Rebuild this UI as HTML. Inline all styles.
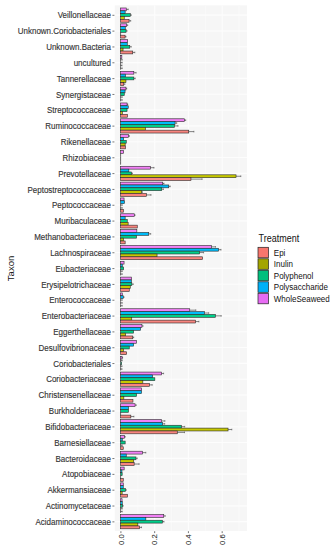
<!DOCTYPE html>
<html><head><meta charset="utf-8"><style>html,body{margin:0;padding:0;background:#fff;width:335px;height:550px;overflow:hidden}svg{display:block;font-family:"Liberation Sans",sans-serif}</style></head>
<body><svg width="335" height="550" viewBox="0 0 335 550" font-family="Liberation Sans, sans-serif"><rect x="0" y="0" width="335" height="550" fill="#fff"/><rect x="114.8" y="5.4" width="132.2" height="525.5" fill="#F6F6F6"/><line x1="137.78" y1="5.4" x2="137.78" y2="530.9" stroke="#FAFAFA" stroke-width="0.8"/><line x1="171.54" y1="5.4" x2="171.54" y2="530.9" stroke="#FAFAFA" stroke-width="0.8"/><line x1="205.30" y1="5.4" x2="205.30" y2="530.9" stroke="#FAFAFA" stroke-width="0.8"/><line x1="239.06" y1="5.4" x2="239.06" y2="530.9" stroke="#FAFAFA" stroke-width="0.8"/><line x1="120.90" y1="5.4" x2="120.90" y2="530.9" stroke="#FDFDFD" stroke-width="1.1"/><line x1="154.66" y1="5.4" x2="154.66" y2="530.9" stroke="#FDFDFD" stroke-width="1.1"/><line x1="188.42" y1="5.4" x2="188.42" y2="530.9" stroke="#FDFDFD" stroke-width="1.1"/><line x1="222.18" y1="5.4" x2="222.18" y2="530.9" stroke="#FDFDFD" stroke-width="1.1"/><line x1="114.8" y1="15.10" x2="247.0" y2="15.10" stroke="#FDFDFD" stroke-width="1.1"/><line x1="114.8" y1="30.93" x2="247.0" y2="30.93" stroke="#FDFDFD" stroke-width="1.1"/><line x1="114.8" y1="46.76" x2="247.0" y2="46.76" stroke="#FDFDFD" stroke-width="1.1"/><line x1="114.8" y1="62.59" x2="247.0" y2="62.59" stroke="#FDFDFD" stroke-width="1.1"/><line x1="114.8" y1="78.42" x2="247.0" y2="78.42" stroke="#FDFDFD" stroke-width="1.1"/><line x1="114.8" y1="94.25" x2="247.0" y2="94.25" stroke="#FDFDFD" stroke-width="1.1"/><line x1="114.8" y1="110.08" x2="247.0" y2="110.08" stroke="#FDFDFD" stroke-width="1.1"/><line x1="114.8" y1="125.91" x2="247.0" y2="125.91" stroke="#FDFDFD" stroke-width="1.1"/><line x1="114.8" y1="141.74" x2="247.0" y2="141.74" stroke="#FDFDFD" stroke-width="1.1"/><line x1="114.8" y1="157.57" x2="247.0" y2="157.57" stroke="#FDFDFD" stroke-width="1.1"/><line x1="114.8" y1="173.40" x2="247.0" y2="173.40" stroke="#FDFDFD" stroke-width="1.1"/><line x1="114.8" y1="189.23" x2="247.0" y2="189.23" stroke="#FDFDFD" stroke-width="1.1"/><line x1="114.8" y1="205.06" x2="247.0" y2="205.06" stroke="#FDFDFD" stroke-width="1.1"/><line x1="114.8" y1="220.89" x2="247.0" y2="220.89" stroke="#FDFDFD" stroke-width="1.1"/><line x1="114.8" y1="236.72" x2="247.0" y2="236.72" stroke="#FDFDFD" stroke-width="1.1"/><line x1="114.8" y1="252.55" x2="247.0" y2="252.55" stroke="#FDFDFD" stroke-width="1.1"/><line x1="114.8" y1="268.38" x2="247.0" y2="268.38" stroke="#FDFDFD" stroke-width="1.1"/><line x1="114.8" y1="284.21" x2="247.0" y2="284.21" stroke="#FDFDFD" stroke-width="1.1"/><line x1="114.8" y1="300.04" x2="247.0" y2="300.04" stroke="#FDFDFD" stroke-width="1.1"/><line x1="114.8" y1="315.87" x2="247.0" y2="315.87" stroke="#FDFDFD" stroke-width="1.1"/><line x1="114.8" y1="331.70" x2="247.0" y2="331.70" stroke="#FDFDFD" stroke-width="1.1"/><line x1="114.8" y1="347.53" x2="247.0" y2="347.53" stroke="#FDFDFD" stroke-width="1.1"/><line x1="114.8" y1="363.36" x2="247.0" y2="363.36" stroke="#FDFDFD" stroke-width="1.1"/><line x1="114.8" y1="379.19" x2="247.0" y2="379.19" stroke="#FDFDFD" stroke-width="1.1"/><line x1="114.8" y1="395.02" x2="247.0" y2="395.02" stroke="#FDFDFD" stroke-width="1.1"/><line x1="114.8" y1="410.85" x2="247.0" y2="410.85" stroke="#FDFDFD" stroke-width="1.1"/><line x1="114.8" y1="426.68" x2="247.0" y2="426.68" stroke="#FDFDFD" stroke-width="1.1"/><line x1="114.8" y1="442.51" x2="247.0" y2="442.51" stroke="#FDFDFD" stroke-width="1.1"/><line x1="114.8" y1="458.34" x2="247.0" y2="458.34" stroke="#FDFDFD" stroke-width="1.1"/><line x1="114.8" y1="474.17" x2="247.0" y2="474.17" stroke="#FDFDFD" stroke-width="1.1"/><line x1="114.8" y1="490.00" x2="247.0" y2="490.00" stroke="#FDFDFD" stroke-width="1.1"/><line x1="114.8" y1="505.83" x2="247.0" y2="505.83" stroke="#FDFDFD" stroke-width="1.1"/><line x1="114.8" y1="521.66" x2="247.0" y2="521.66" stroke="#FDFDFD" stroke-width="1.1"/><rect x="120.6" y="7.98" width="5.65" height="2.85" fill="#F280F6" stroke="#2a2a2a" stroke-width="0.6"/><line x1="126.25" y1="9.40" x2="128.20" y2="9.40" stroke="#333" stroke-width="0.6"/><line x1="128.20" y1="8.60" x2="128.20" y2="10.20" stroke="#444" stroke-width="0.6"/><rect x="120.6" y="10.83" width="4.55" height="2.85" fill="#00BCFA" stroke="#2a2a2a" stroke-width="0.6"/><rect x="120.6" y="13.68" width="9.65" height="2.85" fill="#00CF8A" stroke="#2a2a2a" stroke-width="0.6"/><line x1="130.25" y1="15.10" x2="131.20" y2="15.10" stroke="#333" stroke-width="0.6"/><line x1="131.20" y1="14.30" x2="131.20" y2="15.90" stroke="#444" stroke-width="0.6"/><rect x="120.6" y="16.52" width="3.65" height="2.85" fill="#C6C800" stroke="#2a2a2a" stroke-width="0.6"/><rect x="120.6" y="19.37" width="8.45" height="2.85" fill="#F8847E" stroke="#2a2a2a" stroke-width="0.6"/><line x1="129.05" y1="20.80" x2="130.70" y2="20.80" stroke="#333" stroke-width="0.6"/><line x1="130.70" y1="20.00" x2="130.70" y2="21.60" stroke="#444" stroke-width="0.6"/><rect x="120.6" y="23.81" width="6.15" height="2.85" fill="#F280F6" stroke="#2a2a2a" stroke-width="0.6"/><line x1="126.75" y1="25.23" x2="127.70" y2="25.23" stroke="#333" stroke-width="0.6"/><line x1="127.70" y1="24.43" x2="127.70" y2="26.03" stroke="#444" stroke-width="0.6"/><rect x="120.6" y="26.66" width="4.65" height="2.85" fill="#00BCFA" stroke="#2a2a2a" stroke-width="0.6"/><rect x="120.6" y="29.51" width="5.45" height="2.85" fill="#00CF8A" stroke="#2a2a2a" stroke-width="0.6"/><line x1="126.05" y1="30.93" x2="127.00" y2="30.93" stroke="#333" stroke-width="0.6"/><line x1="127.00" y1="30.13" x2="127.00" y2="31.73" stroke="#444" stroke-width="0.6"/><line x1="120.6" y1="32.35" x2="120.6" y2="35.20" stroke="#222" stroke-width="0.7"/><rect x="120.6" y="35.20" width="4.45" height="2.85" fill="#F8847E" stroke="#2a2a2a" stroke-width="0.6"/><line x1="125.05" y1="36.63" x2="126.00" y2="36.63" stroke="#333" stroke-width="0.6"/><line x1="126.00" y1="35.83" x2="126.00" y2="37.43" stroke="#444" stroke-width="0.6"/><rect x="120.6" y="39.64" width="7.05" height="2.85" fill="#F280F6" stroke="#2a2a2a" stroke-width="0.6"/><rect x="120.6" y="42.49" width="6.65" height="2.85" fill="#00BCFA" stroke="#2a2a2a" stroke-width="0.6"/><rect x="120.6" y="45.34" width="9.15" height="2.85" fill="#00CF8A" stroke="#2a2a2a" stroke-width="0.6"/><line x1="129.75" y1="46.76" x2="131.20" y2="46.76" stroke="#333" stroke-width="0.6"/><line x1="131.20" y1="45.96" x2="131.20" y2="47.56" stroke="#444" stroke-width="0.6"/><rect x="120.6" y="48.18" width="2.45" height="2.85" fill="#C6C800" stroke="#2a2a2a" stroke-width="0.6"/><rect x="120.6" y="51.03" width="12.15" height="2.85" fill="#F8847E" stroke="#2a2a2a" stroke-width="0.6"/><line x1="132.75" y1="52.46" x2="134.80" y2="52.46" stroke="#333" stroke-width="0.6"/><line x1="134.80" y1="51.66" x2="134.80" y2="53.26" stroke="#444" stroke-width="0.6"/><rect x="120.6" y="55.47" width="1.25" height="2.85" fill="#F280F6" stroke="#2a2a2a" stroke-width="0.6"/><line x1="120.6" y1="58.32" x2="120.6" y2="61.17" stroke="#222" stroke-width="0.7"/><line x1="120.60" y1="59.74" x2="122.20" y2="59.74" stroke="#333" stroke-width="0.6"/><line x1="122.20" y1="58.94" x2="122.20" y2="60.54" stroke="#444" stroke-width="0.6"/><line x1="120.6" y1="61.17" x2="120.6" y2="64.01" stroke="#222" stroke-width="0.7"/><line x1="120.60" y1="62.59" x2="122.20" y2="62.59" stroke="#333" stroke-width="0.6"/><line x1="122.20" y1="61.79" x2="122.20" y2="63.39" stroke="#444" stroke-width="0.6"/><line x1="120.6" y1="64.01" x2="120.6" y2="66.86" stroke="#222" stroke-width="0.7"/><line x1="120.60" y1="65.44" x2="122.00" y2="65.44" stroke="#333" stroke-width="0.6"/><line x1="122.00" y1="64.64" x2="122.00" y2="66.24" stroke="#444" stroke-width="0.6"/><line x1="120.6" y1="66.86" x2="120.6" y2="69.71" stroke="#222" stroke-width="0.7"/><line x1="120.60" y1="68.29" x2="122.20" y2="68.29" stroke="#333" stroke-width="0.6"/><line x1="122.20" y1="67.49" x2="122.20" y2="69.09" stroke="#444" stroke-width="0.6"/><rect x="120.6" y="71.30" width="13.25" height="2.85" fill="#F280F6" stroke="#2a2a2a" stroke-width="0.6"/><line x1="133.85" y1="72.72" x2="136.10" y2="72.72" stroke="#333" stroke-width="0.6"/><line x1="136.10" y1="71.92" x2="136.10" y2="73.52" stroke="#444" stroke-width="0.6"/><rect x="120.6" y="74.15" width="4.85" height="2.85" fill="#00BCFA" stroke="#2a2a2a" stroke-width="0.6"/><rect x="120.6" y="77.00" width="13.25" height="2.85" fill="#00CF8A" stroke="#2a2a2a" stroke-width="0.6"/><line x1="133.85" y1="78.42" x2="135.20" y2="78.42" stroke="#333" stroke-width="0.6"/><line x1="135.20" y1="77.62" x2="135.20" y2="79.22" stroke="#444" stroke-width="0.6"/><rect x="120.6" y="79.84" width="5.35" height="2.85" fill="#C6C800" stroke="#2a2a2a" stroke-width="0.6"/><rect x="120.6" y="82.69" width="3.15" height="2.85" fill="#F8847E" stroke="#2a2a2a" stroke-width="0.6"/><line x1="123.75" y1="84.12" x2="124.90" y2="84.12" stroke="#333" stroke-width="0.6"/><line x1="124.90" y1="83.32" x2="124.90" y2="84.92" stroke="#444" stroke-width="0.6"/><rect x="120.6" y="87.13" width="5.35" height="2.85" fill="#F280F6" stroke="#2a2a2a" stroke-width="0.6"/><line x1="125.95" y1="88.55" x2="126.70" y2="88.55" stroke="#333" stroke-width="0.6"/><line x1="126.70" y1="87.75" x2="126.70" y2="89.35" stroke="#444" stroke-width="0.6"/><rect x="120.6" y="89.98" width="4.45" height="2.85" fill="#00BCFA" stroke="#2a2a2a" stroke-width="0.6"/><rect x="120.6" y="92.83" width="3.65" height="2.85" fill="#00CF8A" stroke="#2a2a2a" stroke-width="0.6"/><line x1="120.6" y1="95.67" x2="120.6" y2="98.52" stroke="#222" stroke-width="0.7"/><line x1="120.60" y1="97.10" x2="122.20" y2="97.10" stroke="#333" stroke-width="0.6"/><line x1="122.20" y1="96.30" x2="122.20" y2="97.90" stroke="#444" stroke-width="0.6"/><line x1="120.6" y1="98.52" x2="120.6" y2="101.37" stroke="#222" stroke-width="0.7"/><line x1="120.60" y1="99.95" x2="122.20" y2="99.95" stroke="#333" stroke-width="0.6"/><line x1="122.20" y1="99.15" x2="122.20" y2="100.75" stroke="#444" stroke-width="0.6"/><rect x="120.6" y="102.96" width="6.45" height="2.85" fill="#F280F6" stroke="#2a2a2a" stroke-width="0.6"/><line x1="127.05" y1="104.38" x2="127.70" y2="104.38" stroke="#333" stroke-width="0.6"/><line x1="127.70" y1="103.58" x2="127.70" y2="105.18" stroke="#444" stroke-width="0.6"/><rect x="120.6" y="105.81" width="7.65" height="2.85" fill="#00BCFA" stroke="#2a2a2a" stroke-width="0.6"/><rect x="120.6" y="108.66" width="6.45" height="2.85" fill="#00CF8A" stroke="#2a2a2a" stroke-width="0.6"/><rect x="120.6" y="111.50" width="1.75" height="2.85" fill="#C6C800" stroke="#2a2a2a" stroke-width="0.6"/><rect x="120.6" y="114.35" width="6.85" height="2.85" fill="#F8847E" stroke="#2a2a2a" stroke-width="0.6"/><rect x="120.6" y="118.79" width="63.75" height="2.85" fill="#F280F6" stroke="#2a2a2a" stroke-width="0.6"/><line x1="184.35" y1="120.21" x2="185.70" y2="120.21" stroke="#333" stroke-width="0.6"/><line x1="185.70" y1="119.41" x2="185.70" y2="121.01" stroke="#444" stroke-width="0.6"/><rect x="120.6" y="121.64" width="54.45" height="2.85" fill="#00BCFA" stroke="#2a2a2a" stroke-width="0.6"/><line x1="175.05" y1="123.06" x2="176.70" y2="123.06" stroke="#333" stroke-width="0.6"/><line x1="176.70" y1="122.26" x2="176.70" y2="123.86" stroke="#444" stroke-width="0.6"/><rect x="120.6" y="124.49" width="53.95" height="2.85" fill="#00CF8A" stroke="#2a2a2a" stroke-width="0.6"/><line x1="174.55" y1="125.91" x2="178.00" y2="125.91" stroke="#333" stroke-width="0.6"/><line x1="178.00" y1="125.11" x2="178.00" y2="126.71" stroke="#444" stroke-width="0.6"/><rect x="120.6" y="127.33" width="24.85" height="2.85" fill="#C6C800" stroke="#2a2a2a" stroke-width="0.6"/><rect x="120.6" y="130.18" width="68.15" height="2.85" fill="#F8847E" stroke="#2a2a2a" stroke-width="0.6"/><line x1="188.75" y1="131.61" x2="193.90" y2="131.61" stroke="#333" stroke-width="0.6"/><line x1="193.90" y1="130.81" x2="193.90" y2="132.41" stroke="#444" stroke-width="0.6"/><rect x="120.6" y="134.62" width="7.85" height="2.85" fill="#F280F6" stroke="#2a2a2a" stroke-width="0.6"/><line x1="128.45" y1="136.04" x2="129.40" y2="136.04" stroke="#333" stroke-width="0.6"/><line x1="129.40" y1="135.24" x2="129.40" y2="136.84" stroke="#444" stroke-width="0.6"/><rect x="120.6" y="137.47" width="3.05" height="2.85" fill="#00BCFA" stroke="#2a2a2a" stroke-width="0.6"/><rect x="120.6" y="140.32" width="5.65" height="2.85" fill="#00CF8A" stroke="#2a2a2a" stroke-width="0.6"/><rect x="120.6" y="143.16" width="4.55" height="2.85" fill="#C6C800" stroke="#2a2a2a" stroke-width="0.6"/><rect x="120.6" y="146.01" width="4.85" height="2.85" fill="#F8847E" stroke="#2a2a2a" stroke-width="0.6"/><rect x="120.6" y="150.45" width="3.05" height="2.85" fill="#F280F6" stroke="#2a2a2a" stroke-width="0.6"/><line x1="120.6" y1="153.30" x2="120.6" y2="156.15" stroke="#222" stroke-width="0.7"/><line x1="120.6" y1="156.15" x2="120.6" y2="158.99" stroke="#222" stroke-width="0.7"/><line x1="120.6" y1="158.99" x2="120.6" y2="161.84" stroke="#222" stroke-width="0.7"/><line x1="120.6" y1="161.84" x2="120.6" y2="164.69" stroke="#222" stroke-width="0.7"/><rect x="120.6" y="166.28" width="29.85" height="2.85" fill="#F280F6" stroke="#2a2a2a" stroke-width="0.6"/><line x1="150.45" y1="167.70" x2="154.00" y2="167.70" stroke="#333" stroke-width="0.6"/><line x1="154.00" y1="166.90" x2="154.00" y2="168.50" stroke="#444" stroke-width="0.6"/><rect x="120.6" y="169.13" width="8.25" height="2.85" fill="#00BCFA" stroke="#2a2a2a" stroke-width="0.6"/><rect x="120.6" y="171.98" width="10.85" height="2.85" fill="#00CF8A" stroke="#2a2a2a" stroke-width="0.6"/><line x1="131.45" y1="173.40" x2="132.40" y2="173.40" stroke="#333" stroke-width="0.6"/><line x1="132.40" y1="172.60" x2="132.40" y2="174.20" stroke="#444" stroke-width="0.6"/><rect x="120.6" y="174.82" width="115.45" height="2.85" fill="#C6C800" stroke="#2a2a2a" stroke-width="0.6"/><line x1="236.05" y1="176.25" x2="240.80" y2="176.25" stroke="#333" stroke-width="0.6"/><line x1="240.80" y1="175.45" x2="240.80" y2="177.05" stroke="#444" stroke-width="0.6"/><rect x="120.6" y="177.67" width="70.35" height="2.85" fill="#F8847E" stroke="#2a2a2a" stroke-width="0.6"/><line x1="190.95" y1="179.10" x2="202.10" y2="179.10" stroke="#333" stroke-width="0.6"/><line x1="202.10" y1="178.30" x2="202.10" y2="179.90" stroke="#444" stroke-width="0.6"/><rect x="120.6" y="182.11" width="42.15" height="2.85" fill="#F280F6" stroke="#2a2a2a" stroke-width="0.6"/><line x1="162.75" y1="183.53" x2="164.00" y2="183.53" stroke="#333" stroke-width="0.6"/><line x1="164.00" y1="182.73" x2="164.00" y2="184.33" stroke="#444" stroke-width="0.6"/><rect x="120.6" y="184.96" width="48.15" height="2.85" fill="#00BCFA" stroke="#2a2a2a" stroke-width="0.6"/><line x1="168.75" y1="186.38" x2="170.20" y2="186.38" stroke="#333" stroke-width="0.6"/><line x1="170.20" y1="185.58" x2="170.20" y2="187.18" stroke="#444" stroke-width="0.6"/><rect x="120.6" y="187.81" width="41.15" height="2.85" fill="#00CF8A" stroke="#2a2a2a" stroke-width="0.6"/><line x1="161.75" y1="189.23" x2="163.40" y2="189.23" stroke="#333" stroke-width="0.6"/><line x1="163.40" y1="188.43" x2="163.40" y2="190.03" stroke="#444" stroke-width="0.6"/><rect x="120.6" y="190.65" width="20.95" height="2.85" fill="#C6C800" stroke="#2a2a2a" stroke-width="0.6"/><line x1="141.55" y1="192.08" x2="142.40" y2="192.08" stroke="#333" stroke-width="0.6"/><line x1="142.40" y1="191.28" x2="142.40" y2="192.88" stroke="#444" stroke-width="0.6"/><rect x="120.6" y="193.50" width="25.75" height="2.85" fill="#F8847E" stroke="#2a2a2a" stroke-width="0.6"/><line x1="146.35" y1="194.93" x2="151.00" y2="194.93" stroke="#333" stroke-width="0.6"/><line x1="151.00" y1="194.13" x2="151.00" y2="195.73" stroke="#444" stroke-width="0.6"/><rect x="120.6" y="197.94" width="3.45" height="2.85" fill="#F280F6" stroke="#2a2a2a" stroke-width="0.6"/><rect x="120.6" y="200.79" width="3.85" height="2.85" fill="#00BCFA" stroke="#2a2a2a" stroke-width="0.6"/><line x1="120.6" y1="203.64" x2="120.6" y2="206.48" stroke="#222" stroke-width="0.7"/><line x1="120.60" y1="205.06" x2="122.20" y2="205.06" stroke="#333" stroke-width="0.6"/><line x1="122.20" y1="204.26" x2="122.20" y2="205.86" stroke="#444" stroke-width="0.6"/><line x1="120.6" y1="206.48" x2="120.6" y2="209.33" stroke="#222" stroke-width="0.7"/><line x1="120.60" y1="207.91" x2="122.20" y2="207.91" stroke="#333" stroke-width="0.6"/><line x1="122.20" y1="207.11" x2="122.20" y2="208.71" stroke="#444" stroke-width="0.6"/><rect x="120.6" y="209.33" width="2.85" height="2.85" fill="#F8847E" stroke="#2a2a2a" stroke-width="0.6"/><rect x="120.6" y="213.77" width="13.65" height="2.85" fill="#F280F6" stroke="#2a2a2a" stroke-width="0.6"/><line x1="134.25" y1="215.19" x2="135.00" y2="215.19" stroke="#333" stroke-width="0.6"/><line x1="135.00" y1="214.39" x2="135.00" y2="215.99" stroke="#444" stroke-width="0.6"/><rect x="120.6" y="216.62" width="4.55" height="2.85" fill="#00BCFA" stroke="#2a2a2a" stroke-width="0.6"/><rect x="120.6" y="219.47" width="6.65" height="2.85" fill="#00CF8A" stroke="#2a2a2a" stroke-width="0.6"/><rect x="120.6" y="222.31" width="7.55" height="2.85" fill="#C6C800" stroke="#2a2a2a" stroke-width="0.6"/><rect x="120.6" y="225.16" width="16.65" height="2.85" fill="#F8847E" stroke="#2a2a2a" stroke-width="0.6"/><rect x="120.6" y="229.60" width="16.25" height="2.85" fill="#F280F6" stroke="#2a2a2a" stroke-width="0.6"/><rect x="120.6" y="232.45" width="28.15" height="2.85" fill="#00BCFA" stroke="#2a2a2a" stroke-width="0.6"/><line x1="148.75" y1="233.87" x2="150.70" y2="233.87" stroke="#333" stroke-width="0.6"/><line x1="150.70" y1="233.07" x2="150.70" y2="234.67" stroke="#444" stroke-width="0.6"/><rect x="120.6" y="235.30" width="15.95" height="2.85" fill="#00CF8A" stroke="#2a2a2a" stroke-width="0.6"/><rect x="120.6" y="238.14" width="2.85" height="2.85" fill="#C6C800" stroke="#2a2a2a" stroke-width="0.6"/><rect x="120.6" y="240.99" width="4.55" height="2.85" fill="#F8847E" stroke="#2a2a2a" stroke-width="0.6"/><rect x="120.6" y="245.43" width="90.75" height="2.85" fill="#F280F6" stroke="#2a2a2a" stroke-width="0.6"/><line x1="211.35" y1="246.85" x2="215.50" y2="246.85" stroke="#333" stroke-width="0.6"/><line x1="215.50" y1="246.05" x2="215.50" y2="247.65" stroke="#444" stroke-width="0.6"/><rect x="120.6" y="248.28" width="97.95" height="2.85" fill="#00BCFA" stroke="#2a2a2a" stroke-width="0.6"/><line x1="218.55" y1="249.70" x2="221.00" y2="249.70" stroke="#333" stroke-width="0.6"/><line x1="221.00" y1="248.90" x2="221.00" y2="250.50" stroke="#444" stroke-width="0.6"/><rect x="120.6" y="251.13" width="79.05" height="2.85" fill="#00CF8A" stroke="#2a2a2a" stroke-width="0.6"/><line x1="199.65" y1="252.55" x2="203.60" y2="252.55" stroke="#333" stroke-width="0.6"/><line x1="203.60" y1="251.75" x2="203.60" y2="253.35" stroke="#444" stroke-width="0.6"/><rect x="120.6" y="253.97" width="36.45" height="2.85" fill="#C6C800" stroke="#2a2a2a" stroke-width="0.6"/><rect x="120.6" y="256.82" width="81.95" height="2.85" fill="#F8847E" stroke="#2a2a2a" stroke-width="0.6"/><rect x="120.6" y="261.26" width="3.45" height="2.85" fill="#F280F6" stroke="#2a2a2a" stroke-width="0.6"/><rect x="120.6" y="264.11" width="1.65" height="2.85" fill="#00BCFA" stroke="#2a2a2a" stroke-width="0.6"/><rect x="120.6" y="266.96" width="3.05" height="2.85" fill="#00CF8A" stroke="#2a2a2a" stroke-width="0.6"/><line x1="120.6" y1="269.80" x2="120.6" y2="272.65" stroke="#222" stroke-width="0.7"/><line x1="120.60" y1="271.23" x2="122.20" y2="271.23" stroke="#333" stroke-width="0.6"/><line x1="122.20" y1="270.43" x2="122.20" y2="272.03" stroke="#444" stroke-width="0.6"/><line x1="120.6" y1="272.65" x2="120.6" y2="275.50" stroke="#222" stroke-width="0.7"/><line x1="120.60" y1="274.08" x2="122.20" y2="274.08" stroke="#333" stroke-width="0.6"/><line x1="122.20" y1="273.28" x2="122.20" y2="274.88" stroke="#444" stroke-width="0.6"/><rect x="120.6" y="277.09" width="10.85" height="2.85" fill="#F280F6" stroke="#2a2a2a" stroke-width="0.6"/><rect x="120.6" y="279.94" width="10.75" height="2.85" fill="#00BCFA" stroke="#2a2a2a" stroke-width="0.6"/><rect x="120.6" y="282.79" width="11.25" height="2.85" fill="#00CF8A" stroke="#2a2a2a" stroke-width="0.6"/><line x1="131.85" y1="284.21" x2="133.20" y2="284.21" stroke="#333" stroke-width="0.6"/><line x1="133.20" y1="283.41" x2="133.20" y2="285.01" stroke="#444" stroke-width="0.6"/><rect x="120.6" y="285.63" width="9.65" height="2.85" fill="#C6C800" stroke="#2a2a2a" stroke-width="0.6"/><rect x="120.6" y="288.48" width="8.65" height="2.85" fill="#F8847E" stroke="#2a2a2a" stroke-width="0.6"/><rect x="120.6" y="292.92" width="1.65" height="2.85" fill="#F280F6" stroke="#2a2a2a" stroke-width="0.6"/><rect x="120.6" y="295.77" width="2.65" height="2.85" fill="#00BCFA" stroke="#2a2a2a" stroke-width="0.6"/><line x1="123.25" y1="297.19" x2="124.00" y2="297.19" stroke="#333" stroke-width="0.6"/><line x1="124.00" y1="296.39" x2="124.00" y2="297.99" stroke="#444" stroke-width="0.6"/><line x1="120.6" y1="298.62" x2="120.6" y2="301.46" stroke="#222" stroke-width="0.7"/><line x1="120.60" y1="300.04" x2="122.20" y2="300.04" stroke="#333" stroke-width="0.6"/><line x1="122.20" y1="299.24" x2="122.20" y2="300.84" stroke="#444" stroke-width="0.6"/><line x1="120.6" y1="301.46" x2="120.6" y2="304.31" stroke="#222" stroke-width="0.7"/><line x1="120.60" y1="302.89" x2="122.20" y2="302.89" stroke="#333" stroke-width="0.6"/><line x1="122.20" y1="302.09" x2="122.20" y2="303.69" stroke="#444" stroke-width="0.6"/><line x1="120.6" y1="304.31" x2="120.6" y2="307.16" stroke="#222" stroke-width="0.7"/><line x1="120.60" y1="305.74" x2="122.20" y2="305.74" stroke="#333" stroke-width="0.6"/><line x1="122.20" y1="304.94" x2="122.20" y2="306.54" stroke="#444" stroke-width="0.6"/><rect x="120.6" y="308.75" width="69.15" height="2.85" fill="#F280F6" stroke="#2a2a2a" stroke-width="0.6"/><line x1="189.75" y1="310.17" x2="195.80" y2="310.17" stroke="#333" stroke-width="0.6"/><line x1="195.80" y1="309.37" x2="195.80" y2="310.97" stroke="#444" stroke-width="0.6"/><rect x="120.6" y="311.60" width="83.85" height="2.85" fill="#00BCFA" stroke="#2a2a2a" stroke-width="0.6"/><line x1="204.45" y1="313.02" x2="208.70" y2="313.02" stroke="#333" stroke-width="0.6"/><line x1="208.70" y1="312.22" x2="208.70" y2="313.82" stroke="#444" stroke-width="0.6"/><rect x="120.6" y="314.45" width="94.75" height="2.85" fill="#00CF8A" stroke="#2a2a2a" stroke-width="0.6"/><line x1="215.35" y1="315.87" x2="221.20" y2="315.87" stroke="#333" stroke-width="0.6"/><line x1="221.20" y1="315.07" x2="221.20" y2="316.67" stroke="#444" stroke-width="0.6"/><rect x="120.6" y="317.29" width="11.15" height="2.85" fill="#C6C800" stroke="#2a2a2a" stroke-width="0.6"/><rect x="120.6" y="320.14" width="75.05" height="2.85" fill="#F8847E" stroke="#2a2a2a" stroke-width="0.6"/><line x1="195.65" y1="321.57" x2="198.90" y2="321.57" stroke="#333" stroke-width="0.6"/><line x1="198.90" y1="320.77" x2="198.90" y2="322.37" stroke="#444" stroke-width="0.6"/><rect x="120.6" y="324.58" width="21.35" height="2.85" fill="#F280F6" stroke="#2a2a2a" stroke-width="0.6"/><line x1="141.95" y1="326.00" x2="143.00" y2="326.00" stroke="#333" stroke-width="0.6"/><line x1="143.00" y1="325.20" x2="143.00" y2="326.80" stroke="#444" stroke-width="0.6"/><rect x="120.6" y="327.43" width="19.95" height="2.85" fill="#00BCFA" stroke="#2a2a2a" stroke-width="0.6"/><rect x="120.6" y="330.28" width="12.95" height="2.85" fill="#00CF8A" stroke="#2a2a2a" stroke-width="0.6"/><rect x="120.6" y="333.12" width="5.05" height="2.85" fill="#C6C800" stroke="#2a2a2a" stroke-width="0.6"/><rect x="120.6" y="335.97" width="12.15" height="2.85" fill="#F8847E" stroke="#2a2a2a" stroke-width="0.6"/><line x1="132.75" y1="337.40" x2="133.70" y2="337.40" stroke="#333" stroke-width="0.6"/><line x1="133.70" y1="336.60" x2="133.70" y2="338.20" stroke="#444" stroke-width="0.6"/><rect x="120.6" y="340.41" width="15.75" height="2.85" fill="#F280F6" stroke="#2a2a2a" stroke-width="0.6"/><rect x="120.6" y="343.26" width="13.05" height="2.85" fill="#00BCFA" stroke="#2a2a2a" stroke-width="0.6"/><rect x="120.6" y="346.11" width="8.65" height="2.85" fill="#00CF8A" stroke="#2a2a2a" stroke-width="0.6"/><rect x="120.6" y="348.95" width="2.85" height="2.85" fill="#C6C800" stroke="#2a2a2a" stroke-width="0.6"/><rect x="120.6" y="351.80" width="6.05" height="2.85" fill="#F8847E" stroke="#2a2a2a" stroke-width="0.6"/><rect x="120.6" y="356.24" width="1.45" height="2.85" fill="#F280F6" stroke="#2a2a2a" stroke-width="0.6"/><line x1="122.05" y1="357.66" x2="122.60" y2="357.66" stroke="#333" stroke-width="0.6"/><line x1="122.60" y1="356.86" x2="122.60" y2="358.46" stroke="#444" stroke-width="0.6"/><line x1="120.6" y1="359.09" x2="120.6" y2="361.94" stroke="#222" stroke-width="0.7"/><line x1="120.60" y1="360.51" x2="122.20" y2="360.51" stroke="#333" stroke-width="0.6"/><line x1="122.20" y1="359.71" x2="122.20" y2="361.31" stroke="#444" stroke-width="0.6"/><rect x="120.6" y="361.94" width="0.95" height="2.85" fill="#00CF8A" stroke="#2a2a2a" stroke-width="0.6"/><line x1="120.6" y1="364.78" x2="120.6" y2="367.63" stroke="#222" stroke-width="0.7"/><line x1="120.60" y1="366.21" x2="122.00" y2="366.21" stroke="#333" stroke-width="0.6"/><line x1="122.00" y1="365.41" x2="122.00" y2="367.01" stroke="#444" stroke-width="0.6"/><line x1="120.6" y1="367.63" x2="120.6" y2="370.48" stroke="#222" stroke-width="0.7"/><line x1="120.60" y1="369.06" x2="122.00" y2="369.06" stroke="#333" stroke-width="0.6"/><line x1="122.00" y1="368.26" x2="122.00" y2="369.86" stroke="#444" stroke-width="0.6"/><rect x="120.6" y="372.07" width="41.05" height="2.85" fill="#F280F6" stroke="#2a2a2a" stroke-width="0.6"/><line x1="161.65" y1="373.49" x2="163.60" y2="373.49" stroke="#333" stroke-width="0.6"/><line x1="163.60" y1="372.69" x2="163.60" y2="374.29" stroke="#444" stroke-width="0.6"/><rect x="120.6" y="374.92" width="32.05" height="2.85" fill="#00BCFA" stroke="#2a2a2a" stroke-width="0.6"/><rect x="120.6" y="377.77" width="34.25" height="2.85" fill="#00CF8A" stroke="#2a2a2a" stroke-width="0.6"/><rect x="120.6" y="380.61" width="22.25" height="2.85" fill="#C6C800" stroke="#2a2a2a" stroke-width="0.6"/><rect x="120.6" y="383.46" width="28.85" height="2.85" fill="#F8847E" stroke="#2a2a2a" stroke-width="0.6"/><line x1="149.45" y1="384.89" x2="152.20" y2="384.89" stroke="#333" stroke-width="0.6"/><line x1="152.20" y1="384.09" x2="152.20" y2="385.69" stroke="#444" stroke-width="0.6"/><rect x="120.6" y="387.90" width="20.95" height="2.85" fill="#F280F6" stroke="#2a2a2a" stroke-width="0.6"/><rect x="120.6" y="390.75" width="20.95" height="2.85" fill="#00BCFA" stroke="#2a2a2a" stroke-width="0.6"/><rect x="120.6" y="393.60" width="15.95" height="2.85" fill="#00CF8A" stroke="#2a2a2a" stroke-width="0.6"/><rect x="120.6" y="396.44" width="3.25" height="2.85" fill="#C6C800" stroke="#2a2a2a" stroke-width="0.6"/><rect x="120.6" y="399.29" width="12.35" height="2.85" fill="#F8847E" stroke="#2a2a2a" stroke-width="0.6"/><rect x="120.6" y="403.73" width="14.45" height="2.85" fill="#F280F6" stroke="#2a2a2a" stroke-width="0.6"/><line x1="135.05" y1="405.15" x2="136.20" y2="405.15" stroke="#333" stroke-width="0.6"/><line x1="136.20" y1="404.35" x2="136.20" y2="405.95" stroke="#444" stroke-width="0.6"/><rect x="120.6" y="406.58" width="7.85" height="2.85" fill="#00BCFA" stroke="#2a2a2a" stroke-width="0.6"/><rect x="120.6" y="409.43" width="7.85" height="2.85" fill="#00CF8A" stroke="#2a2a2a" stroke-width="0.6"/><line x1="120.6" y1="412.27" x2="120.6" y2="415.12" stroke="#222" stroke-width="0.7"/><rect x="120.6" y="415.12" width="10.25" height="2.85" fill="#F8847E" stroke="#2a2a2a" stroke-width="0.6"/><line x1="130.85" y1="416.55" x2="133.90" y2="416.55" stroke="#333" stroke-width="0.6"/><line x1="133.90" y1="415.75" x2="133.90" y2="417.35" stroke="#444" stroke-width="0.6"/><rect x="120.6" y="419.56" width="40.65" height="2.85" fill="#F280F6" stroke="#2a2a2a" stroke-width="0.6"/><line x1="161.25" y1="420.98" x2="164.90" y2="420.98" stroke="#333" stroke-width="0.6"/><line x1="164.90" y1="420.18" x2="164.90" y2="421.78" stroke="#444" stroke-width="0.6"/><rect x="120.6" y="422.41" width="42.05" height="2.85" fill="#00BCFA" stroke="#2a2a2a" stroke-width="0.6"/><line x1="162.65" y1="423.83" x2="164.70" y2="423.83" stroke="#333" stroke-width="0.6"/><line x1="164.70" y1="423.03" x2="164.70" y2="424.63" stroke="#444" stroke-width="0.6"/><rect x="120.6" y="425.26" width="60.75" height="2.85" fill="#00CF8A" stroke="#2a2a2a" stroke-width="0.6"/><line x1="181.35" y1="426.68" x2="184.70" y2="426.68" stroke="#333" stroke-width="0.6"/><line x1="184.70" y1="425.88" x2="184.70" y2="427.48" stroke="#444" stroke-width="0.6"/><rect x="120.6" y="428.10" width="107.45" height="2.85" fill="#C6C800" stroke="#2a2a2a" stroke-width="0.6"/><line x1="228.05" y1="429.53" x2="231.80" y2="429.53" stroke="#333" stroke-width="0.6"/><line x1="231.80" y1="428.73" x2="231.80" y2="430.33" stroke="#444" stroke-width="0.6"/><rect x="120.6" y="430.95" width="56.65" height="2.85" fill="#F8847E" stroke="#2a2a2a" stroke-width="0.6"/><line x1="177.25" y1="432.38" x2="184.50" y2="432.38" stroke="#333" stroke-width="0.6"/><line x1="184.50" y1="431.58" x2="184.50" y2="433.18" stroke="#444" stroke-width="0.6"/><rect x="120.6" y="435.39" width="3.85" height="2.85" fill="#F280F6" stroke="#2a2a2a" stroke-width="0.6"/><line x1="124.45" y1="436.81" x2="125.20" y2="436.81" stroke="#333" stroke-width="0.6"/><line x1="125.20" y1="436.01" x2="125.20" y2="437.61" stroke="#444" stroke-width="0.6"/><rect x="120.6" y="438.24" width="1.65" height="2.85" fill="#00BCFA" stroke="#2a2a2a" stroke-width="0.6"/><rect x="120.6" y="441.09" width="4.55" height="2.85" fill="#00CF8A" stroke="#2a2a2a" stroke-width="0.6"/><line x1="120.6" y1="443.93" x2="120.6" y2="446.78" stroke="#222" stroke-width="0.7"/><line x1="120.60" y1="445.36" x2="122.20" y2="445.36" stroke="#333" stroke-width="0.6"/><line x1="122.20" y1="444.56" x2="122.20" y2="446.16" stroke="#444" stroke-width="0.6"/><rect x="120.6" y="446.78" width="2.65" height="2.85" fill="#F8847E" stroke="#2a2a2a" stroke-width="0.6"/><rect x="120.6" y="451.22" width="22.05" height="2.85" fill="#F280F6" stroke="#2a2a2a" stroke-width="0.6"/><line x1="142.65" y1="452.64" x2="145.80" y2="452.64" stroke="#333" stroke-width="0.6"/><line x1="145.80" y1="451.84" x2="145.80" y2="453.44" stroke="#444" stroke-width="0.6"/><rect x="120.6" y="454.07" width="5.65" height="2.85" fill="#00BCFA" stroke="#2a2a2a" stroke-width="0.6"/><rect x="120.6" y="456.92" width="15.35" height="2.85" fill="#00CF8A" stroke="#2a2a2a" stroke-width="0.6"/><line x1="135.95" y1="458.34" x2="137.20" y2="458.34" stroke="#333" stroke-width="0.6"/><line x1="137.20" y1="457.54" x2="137.20" y2="459.14" stroke="#444" stroke-width="0.6"/><rect x="120.6" y="459.76" width="13.15" height="2.85" fill="#C6C800" stroke="#2a2a2a" stroke-width="0.6"/><rect x="120.6" y="462.61" width="13.55" height="2.85" fill="#F8847E" stroke="#2a2a2a" stroke-width="0.6"/><line x1="134.15" y1="464.04" x2="139.10" y2="464.04" stroke="#333" stroke-width="0.6"/><line x1="139.10" y1="463.24" x2="139.10" y2="464.84" stroke="#444" stroke-width="0.6"/><rect x="120.6" y="467.05" width="3.55" height="2.85" fill="#F280F6" stroke="#2a2a2a" stroke-width="0.6"/><rect x="120.6" y="469.90" width="1.35" height="2.85" fill="#00BCFA" stroke="#2a2a2a" stroke-width="0.6"/><rect x="120.6" y="472.75" width="1.55" height="2.85" fill="#00CF8A" stroke="#2a2a2a" stroke-width="0.6"/><line x1="120.6" y1="475.59" x2="120.6" y2="478.44" stroke="#222" stroke-width="0.7"/><rect x="120.6" y="478.44" width="2.65" height="2.85" fill="#F8847E" stroke="#2a2a2a" stroke-width="0.6"/><rect x="120.6" y="482.88" width="2.65" height="2.85" fill="#F280F6" stroke="#2a2a2a" stroke-width="0.6"/><rect x="120.6" y="485.73" width="2.65" height="2.85" fill="#00BCFA" stroke="#2a2a2a" stroke-width="0.6"/><rect x="120.6" y="488.58" width="4.85" height="2.85" fill="#00CF8A" stroke="#2a2a2a" stroke-width="0.6"/><line x1="125.45" y1="490.00" x2="126.20" y2="490.00" stroke="#333" stroke-width="0.6"/><line x1="126.20" y1="489.20" x2="126.20" y2="490.80" stroke="#444" stroke-width="0.6"/><rect x="120.6" y="491.42" width="1.55" height="2.85" fill="#C6C800" stroke="#2a2a2a" stroke-width="0.6"/><rect x="120.6" y="494.27" width="6.85" height="2.85" fill="#F8847E" stroke="#2a2a2a" stroke-width="0.6"/><rect x="120.6" y="498.71" width="1.45" height="2.85" fill="#F280F6" stroke="#2a2a2a" stroke-width="0.6"/><rect x="120.6" y="501.56" width="1.65" height="2.85" fill="#00BCFA" stroke="#2a2a2a" stroke-width="0.6"/><rect x="120.6" y="504.41" width="1.85" height="2.85" fill="#00CF8A" stroke="#2a2a2a" stroke-width="0.6"/><line x1="122.45" y1="505.83" x2="123.10" y2="505.83" stroke="#333" stroke-width="0.6"/><line x1="123.10" y1="505.03" x2="123.10" y2="506.63" stroke="#444" stroke-width="0.6"/><line x1="120.6" y1="507.25" x2="120.6" y2="510.10" stroke="#222" stroke-width="0.7"/><line x1="120.60" y1="508.68" x2="122.20" y2="508.68" stroke="#333" stroke-width="0.6"/><line x1="122.20" y1="507.88" x2="122.20" y2="509.48" stroke="#444" stroke-width="0.6"/><line x1="120.6" y1="510.10" x2="120.6" y2="512.95" stroke="#222" stroke-width="0.7"/><line x1="120.60" y1="511.53" x2="122.20" y2="511.53" stroke="#333" stroke-width="0.6"/><line x1="122.20" y1="510.73" x2="122.20" y2="512.33" stroke="#444" stroke-width="0.6"/><rect x="120.6" y="514.54" width="43.15" height="2.85" fill="#F280F6" stroke="#2a2a2a" stroke-width="0.6"/><line x1="163.75" y1="515.96" x2="165.20" y2="515.96" stroke="#333" stroke-width="0.6"/><line x1="165.20" y1="515.16" x2="165.20" y2="516.76" stroke="#444" stroke-width="0.6"/><rect x="120.6" y="517.39" width="25.25" height="2.85" fill="#00BCFA" stroke="#2a2a2a" stroke-width="0.6"/><rect x="120.6" y="520.24" width="41.75" height="2.85" fill="#00CF8A" stroke="#2a2a2a" stroke-width="0.6"/><line x1="162.35" y1="521.66" x2="164.00" y2="521.66" stroke="#333" stroke-width="0.6"/><line x1="164.00" y1="520.86" x2="164.00" y2="522.46" stroke="#444" stroke-width="0.6"/><rect x="120.6" y="523.08" width="17.25" height="2.85" fill="#C6C800" stroke="#2a2a2a" stroke-width="0.6"/><rect x="120.6" y="525.93" width="19.05" height="2.85" fill="#F8847E" stroke="#2a2a2a" stroke-width="0.6"/><line x1="139.65" y1="527.36" x2="141.50" y2="527.36" stroke="#333" stroke-width="0.6"/><line x1="141.50" y1="526.56" x2="141.50" y2="528.16" stroke="#444" stroke-width="0.6"/><line x1="112.39999999999999" y1="15.30" x2="114.39999999999999" y2="15.30" stroke="#555" stroke-width="0.8"/><text transform="translate(111.00,18.40) scale(1,1.15)" text-anchor="end" font-size="8" fill="#333" stroke="#333" stroke-width="0.12">Veillonellaceae</text><line x1="112.39999999999999" y1="31.13" x2="114.39999999999999" y2="31.13" stroke="#555" stroke-width="0.8"/><text transform="translate(111.00,34.23) scale(1,1.15)" text-anchor="end" font-size="8" fill="#333" stroke="#333" stroke-width="0.12">Unknown.Coriobacteriales</text><line x1="112.39999999999999" y1="46.96" x2="114.39999999999999" y2="46.96" stroke="#555" stroke-width="0.8"/><text transform="translate(111.00,50.06) scale(1,1.15)" text-anchor="end" font-size="8" fill="#333" stroke="#333" stroke-width="0.12">Unknown.Bacteria</text><line x1="112.39999999999999" y1="62.79" x2="114.39999999999999" y2="62.79" stroke="#555" stroke-width="0.8"/><text transform="translate(111.00,65.89) scale(1,1.15)" text-anchor="end" font-size="8" fill="#333" stroke="#333" stroke-width="0.12">uncultured</text><line x1="112.39999999999999" y1="78.62" x2="114.39999999999999" y2="78.62" stroke="#555" stroke-width="0.8"/><text transform="translate(111.00,81.72) scale(1,1.15)" text-anchor="end" font-size="8" fill="#333" stroke="#333" stroke-width="0.12">Tannerellaceae</text><line x1="112.39999999999999" y1="94.45" x2="114.39999999999999" y2="94.45" stroke="#555" stroke-width="0.8"/><text transform="translate(111.00,97.55) scale(1,1.15)" text-anchor="end" font-size="8" fill="#333" stroke="#333" stroke-width="0.12">Synergistaceae</text><line x1="112.39999999999999" y1="110.28" x2="114.39999999999999" y2="110.28" stroke="#555" stroke-width="0.8"/><text transform="translate(111.00,113.38) scale(1,1.15)" text-anchor="end" font-size="8" fill="#333" stroke="#333" stroke-width="0.12">Streptococcaceae</text><line x1="112.39999999999999" y1="126.11" x2="114.39999999999999" y2="126.11" stroke="#555" stroke-width="0.8"/><text transform="translate(111.00,129.21) scale(1,1.15)" text-anchor="end" font-size="8" fill="#333" stroke="#333" stroke-width="0.12">Ruminococcaceae</text><line x1="112.39999999999999" y1="141.94" x2="114.39999999999999" y2="141.94" stroke="#555" stroke-width="0.8"/><text transform="translate(111.00,145.04) scale(1,1.15)" text-anchor="end" font-size="8" fill="#333" stroke="#333" stroke-width="0.12">Rikenellaceae</text><line x1="112.39999999999999" y1="157.77" x2="114.39999999999999" y2="157.77" stroke="#555" stroke-width="0.8"/><text transform="translate(111.00,160.87) scale(1,1.15)" text-anchor="end" font-size="8" fill="#333" stroke="#333" stroke-width="0.12">Rhizobiaceae</text><line x1="112.39999999999999" y1="173.60" x2="114.39999999999999" y2="173.60" stroke="#555" stroke-width="0.8"/><text transform="translate(111.00,176.70) scale(1,1.15)" text-anchor="end" font-size="8" fill="#333" stroke="#333" stroke-width="0.12">Prevotellaceae</text><line x1="112.39999999999999" y1="189.43" x2="114.39999999999999" y2="189.43" stroke="#555" stroke-width="0.8"/><text transform="translate(111.00,192.53) scale(1,1.15)" text-anchor="end" font-size="8" fill="#333" stroke="#333" stroke-width="0.12">Peptostreptococcaceae</text><line x1="112.39999999999999" y1="205.26" x2="114.39999999999999" y2="205.26" stroke="#555" stroke-width="0.8"/><text transform="translate(111.00,208.36) scale(1,1.15)" text-anchor="end" font-size="8" fill="#333" stroke="#333" stroke-width="0.12">Peptococcaceae</text><line x1="112.39999999999999" y1="221.09" x2="114.39999999999999" y2="221.09" stroke="#555" stroke-width="0.8"/><text transform="translate(111.00,224.19) scale(1,1.15)" text-anchor="end" font-size="8" fill="#333" stroke="#333" stroke-width="0.12">Muribaculaceae</text><line x1="112.39999999999999" y1="236.92" x2="114.39999999999999" y2="236.92" stroke="#555" stroke-width="0.8"/><text transform="translate(111.00,240.02) scale(1,1.15)" text-anchor="end" font-size="8" fill="#333" stroke="#333" stroke-width="0.12">Methanobacteriaceae</text><line x1="112.39999999999999" y1="252.75" x2="114.39999999999999" y2="252.75" stroke="#555" stroke-width="0.8"/><text transform="translate(111.00,255.85) scale(1,1.15)" text-anchor="end" font-size="8" fill="#333" stroke="#333" stroke-width="0.12">Lachnospiraceae</text><line x1="112.39999999999999" y1="268.58" x2="114.39999999999999" y2="268.58" stroke="#555" stroke-width="0.8"/><text transform="translate(111.00,271.68) scale(1,1.15)" text-anchor="end" font-size="8" fill="#333" stroke="#333" stroke-width="0.12">Eubacteriaceae</text><line x1="112.39999999999999" y1="284.41" x2="114.39999999999999" y2="284.41" stroke="#555" stroke-width="0.8"/><text transform="translate(111.00,287.51) scale(1,1.15)" text-anchor="end" font-size="8" fill="#333" stroke="#333" stroke-width="0.12">Erysipelotrichaceae</text><line x1="112.39999999999999" y1="300.24" x2="114.39999999999999" y2="300.24" stroke="#555" stroke-width="0.8"/><text transform="translate(111.00,303.34) scale(1,1.15)" text-anchor="end" font-size="8" fill="#333" stroke="#333" stroke-width="0.12">Enterococcaceae</text><line x1="112.39999999999999" y1="316.07" x2="114.39999999999999" y2="316.07" stroke="#555" stroke-width="0.8"/><text transform="translate(111.00,319.17) scale(1,1.15)" text-anchor="end" font-size="8" fill="#333" stroke="#333" stroke-width="0.12">Enterobacteriaceae</text><line x1="112.39999999999999" y1="331.90" x2="114.39999999999999" y2="331.90" stroke="#555" stroke-width="0.8"/><text transform="translate(111.00,335.00) scale(1,1.15)" text-anchor="end" font-size="8" fill="#333" stroke="#333" stroke-width="0.12">Eggerthellaceae</text><line x1="112.39999999999999" y1="347.73" x2="114.39999999999999" y2="347.73" stroke="#555" stroke-width="0.8"/><text transform="translate(111.00,350.83) scale(1,1.15)" text-anchor="end" font-size="8" fill="#333" stroke="#333" stroke-width="0.12">Desulfovibrionaceae</text><line x1="112.39999999999999" y1="363.56" x2="114.39999999999999" y2="363.56" stroke="#555" stroke-width="0.8"/><text transform="translate(111.00,366.66) scale(1,1.15)" text-anchor="end" font-size="8" fill="#333" stroke="#333" stroke-width="0.12">Coriobacteriales</text><line x1="112.39999999999999" y1="379.39" x2="114.39999999999999" y2="379.39" stroke="#555" stroke-width="0.8"/><text transform="translate(111.00,382.49) scale(1,1.15)" text-anchor="end" font-size="8" fill="#333" stroke="#333" stroke-width="0.12">Coriobacteriaceae</text><line x1="112.39999999999999" y1="395.22" x2="114.39999999999999" y2="395.22" stroke="#555" stroke-width="0.8"/><text transform="translate(111.00,398.32) scale(1,1.15)" text-anchor="end" font-size="8" fill="#333" stroke="#333" stroke-width="0.12">Christensenellaceae</text><line x1="112.39999999999999" y1="411.05" x2="114.39999999999999" y2="411.05" stroke="#555" stroke-width="0.8"/><text transform="translate(111.00,414.15) scale(1,1.15)" text-anchor="end" font-size="8" fill="#333" stroke="#333" stroke-width="0.12">Burkholderiaceae</text><line x1="112.39999999999999" y1="426.88" x2="114.39999999999999" y2="426.88" stroke="#555" stroke-width="0.8"/><text transform="translate(111.00,429.98) scale(1,1.15)" text-anchor="end" font-size="8" fill="#333" stroke="#333" stroke-width="0.12">Bifidobacteriaceae</text><line x1="112.39999999999999" y1="442.71" x2="114.39999999999999" y2="442.71" stroke="#555" stroke-width="0.8"/><text transform="translate(111.00,445.81) scale(1,1.15)" text-anchor="end" font-size="8" fill="#333" stroke="#333" stroke-width="0.12">Barnesiellaceae</text><line x1="112.39999999999999" y1="458.54" x2="114.39999999999999" y2="458.54" stroke="#555" stroke-width="0.8"/><text transform="translate(111.00,461.64) scale(1,1.15)" text-anchor="end" font-size="8" fill="#333" stroke="#333" stroke-width="0.12">Bacteroidaceae</text><line x1="112.39999999999999" y1="474.37" x2="114.39999999999999" y2="474.37" stroke="#555" stroke-width="0.8"/><text transform="translate(111.00,477.47) scale(1,1.15)" text-anchor="end" font-size="8" fill="#333" stroke="#333" stroke-width="0.12">Atopobiaceae</text><line x1="112.39999999999999" y1="490.20" x2="114.39999999999999" y2="490.20" stroke="#555" stroke-width="0.8"/><text transform="translate(111.00,493.30) scale(1,1.15)" text-anchor="end" font-size="8" fill="#333" stroke="#333" stroke-width="0.12">Akkermansiaceae</text><line x1="112.39999999999999" y1="506.03" x2="114.39999999999999" y2="506.03" stroke="#555" stroke-width="0.8"/><text transform="translate(111.00,509.13) scale(1,1.15)" text-anchor="end" font-size="8" fill="#333" stroke="#333" stroke-width="0.12">Actinomycetaceae</text><line x1="112.39999999999999" y1="521.86" x2="114.39999999999999" y2="521.86" stroke="#555" stroke-width="0.8"/><text transform="translate(111.00,524.96) scale(1,1.15)" text-anchor="end" font-size="8" fill="#333" stroke="#333" stroke-width="0.12">Acidaminococcaceae</text><line x1="120.90" y1="531.1999999999999" x2="120.90" y2="533.1" stroke="#555" stroke-width="0.8"/><text transform="translate(123.70,534.30) rotate(-90)" text-anchor="end" font-size="7.7" fill="#333" stroke="#333" stroke-width="0.1">0.0</text><line x1="154.66" y1="531.1999999999999" x2="154.66" y2="533.1" stroke="#555" stroke-width="0.8"/><text transform="translate(157.46,534.30) rotate(-90)" text-anchor="end" font-size="7.7" fill="#333" stroke="#333" stroke-width="0.1">0.2</text><line x1="188.42" y1="531.1999999999999" x2="188.42" y2="533.1" stroke="#555" stroke-width="0.8"/><text transform="translate(191.22,534.30) rotate(-90)" text-anchor="end" font-size="7.7" fill="#333" stroke="#333" stroke-width="0.1">0.4</text><line x1="222.18" y1="531.1999999999999" x2="222.18" y2="533.1" stroke="#555" stroke-width="0.8"/><text transform="translate(224.98,534.30) rotate(-90)" text-anchor="end" font-size="7.7" fill="#333" stroke="#333" stroke-width="0.1">0.6</text><text transform="translate(14.0,268.4) rotate(-90)" text-anchor="middle" font-size="9.6" fill="#111">Taxon</text><text transform="translate(258.6,241.9) scale(1,1.12)" font-size="9" fill="#111">Treatment</text><rect x="258" y="247.30" width="10.5" height="10.5" fill="#F8766D" stroke="#222" stroke-width="0.7"/><text transform="translate(273.8,255.90) scale(1,1.15)" font-size="8" fill="#111">Epi</text><rect x="258" y="258.80" width="10.5" height="10.5" fill="#A3A500" stroke="#222" stroke-width="0.7"/><text transform="translate(273.8,267.40) scale(1,1.15)" font-size="8" fill="#111">Inulin</text><rect x="258" y="270.30" width="10.5" height="10.5" fill="#00BF7D" stroke="#222" stroke-width="0.7"/><text transform="translate(273.8,278.90) scale(1,1.15)" font-size="8" fill="#111">Polyphenol</text><rect x="258" y="281.80" width="10.5" height="10.5" fill="#00B0F6" stroke="#222" stroke-width="0.7"/><text transform="translate(273.8,290.40) scale(1,1.15)" font-size="8" fill="#111">Polysaccharide</text><rect x="258" y="293.30" width="10.5" height="10.5" fill="#E76BF3" stroke="#222" stroke-width="0.7"/><text transform="translate(273.8,301.90) scale(1,1.15)" font-size="8" fill="#111">WholeSeaweed</text></svg></body></html>
